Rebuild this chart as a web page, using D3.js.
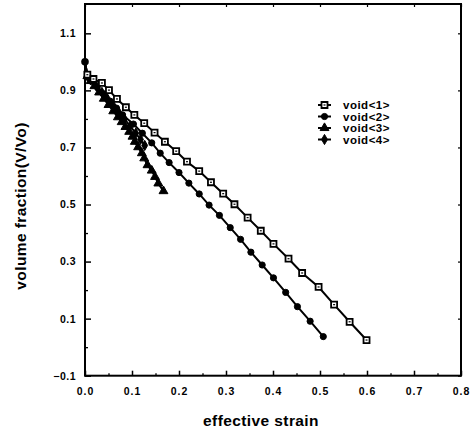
<!DOCTYPE html>
<html>
<head>
<meta charset="utf-8">
<script src="https://cdn.jsdelivr.net/npm/d3@7/dist/d3.min.js"></script>
<style>
  html, body { margin: 0; padding: 0; background: #fff; }
  svg { display: block; }
  text { font-family: "Liberation Sans", Arial, Helvetica, sans-serif; font-weight: bold; fill: #000; }
</style>
</head>
<body>
<svg id="chart" width="476" height="434"></svg>
<script>
// Void volume fraction against effective strain, four voids
const seriesNames = ["void<1>", "void<2>", "void<3>", "void<4>"];

const void1Strain = [0, 0.005, 0.018, 0.036, 0.051, 0.068, 0.087, 0.105, 0.126, 0.148, 0.170, 0.194, 0.217, 0.243, 0.268, 0.294, 0.318, 0.346, 0.374, 0.401, 0.433, 0.462, 0.497, 0.530, 0.563, 0.599];
const void1Frac   = [1.0, 0.955, 0.940, 0.926, 0.901, 0.870, 0.841, 0.814, 0.785, 0.752, 0.720, 0.687, 0.650, 0.617, 0.578, 0.538, 0.501, 0.454, 0.408, 0.362, 0.310, 0.260, 0.211, 0.149, 0.089, 0.025];

const void2Strain = [0, 0.005, 0.014, 0.026, 0.040, 0.054, 0.067, 0.080, 0.103, 0.122, 0.142, 0.160, 0.179, 0.200, 0.221, 0.243, 0.264, 0.286, 0.309, 0.331, 0.353, 0.377, 0.401, 0.427, 0.452, 0.479, 0.507];
const void2Frac   = [1.0, 0.950, 0.932, 0.912, 0.888, 0.862, 0.838, 0.814, 0.782, 0.750, 0.716, 0.680, 0.647, 0.612, 0.575, 0.537, 0.498, 0.462, 0.419, 0.378, 0.333, 0.288, 0.243, 0.192, 0.142, 0.091, 0.037];

const void3Strain = [0, 0.005, 0.012, 0.020, 0.030, 0.040, 0.050, 0.060, 0.070, 0.078, 0.086, 0.094, 0.101, 0.106, 0.113, 0.121, 0.126, 0.133, 0.142, 0.149, 0.156, 0.167];
const void3Frac   = [1.0, 0.950, 0.933, 0.915, 0.893, 0.871, 0.849, 0.827, 0.806, 0.789, 0.772, 0.755, 0.738, 0.720, 0.701, 0.680, 0.662, 0.638, 0.619, 0.597, 0.574, 0.547];

const void4Strain = [0, 0.005, 0.012, 0.024, 0.036, 0.048, 0.060, 0.072, 0.084, 0.096, 0.108, 0.118, 0.127];
const void4Frac   = [1.0, 0.950, 0.937, 0.915, 0.893, 0.870, 0.847, 0.823, 0.800, 0.775, 0.750, 0.728, 0.707];

const xTicks = [0, 0.1, 0.2, 0.3, 0.4, 0.5, 0.6, 0.7, 0.8];
const xMinorTicks = [0.05, 0.15, 0.25, 0.35, 0.45, 0.55, 0.65, 0.75];
const yTicks = [-0.1, 0.1, 0.3, 0.5, 0.7, 0.9, 1.1];
const yMinorTicks = [0.0, 0.2, 0.4, 0.6, 0.8, 1.0];

const xTitle = "effective strain";
const yTitle = "volume fraction(V/Vo)";

const series = [
  { name: seriesNames[0], xs: void1Strain, ys: void1Frac, symbol: "square" },
  { name: seriesNames[1], xs: void2Strain, ys: void2Frac, symbol: "circle" },
  { name: seriesNames[2], xs: void3Strain, ys: void3Frac, symbol: "triangle" },
  { name: seriesNames[3], xs: void4Strain, ys: void4Frac, symbol: "diamond" }
];

const svg = d3.select("#chart");
const plotLeft = 85, plotRight = 461, plotTop = 4.8, plotBottom = 375.7;

const x = d3.scaleLinear().domain([0, 0.8]).range([plotLeft, plotRight]);
const y = d3.scaleLinear().domain([-0.1, 1.2]).range([plotBottom, plotTop]);

// Frame
svg.append("rect")
  .attr("x", plotLeft).attr("y", plotTop - 0.8)
  .attr("width", plotRight - plotLeft).attr("height", plotBottom - plotTop + 0.8)
  .attr("fill", "none").attr("stroke", "#000").attr("stroke-width", 2);

// Bottom axis: labelled major ticks, inward
const xAxis = d3.axisBottom(x).tickValues(xTicks).tickFormat(d3.format(".1f")).tickSizeInner(-5).tickSizeOuter(0).tickPadding(12);
const gx = svg.append("g").attr("transform", `translate(0,${plotBottom})`).call(xAxis);
gx.select(".domain").remove();
gx.selectAll("line").attr("stroke", "#000").attr("stroke-width", 1.5);
gx.selectAll("text").attr("font-size", 10.5).attr("font-family", "Liberation Sans, Arial, sans-serif").attr("font-weight", "bold").attr("letter-spacing", "1px");

const gxm = svg.append("g").attr("transform", `translate(0,${plotBottom})`)
  .call(d3.axisBottom(x).tickValues(xMinorTicks).tickFormat("").tickSizeInner(-2.5).tickSizeOuter(0));
gxm.select(".domain").remove();
gxm.selectAll("line").attr("stroke", "#000").attr("stroke-width", 1.3);

// Top mirror ticks
const gxt = svg.append("g").attr("transform", `translate(0,${plotTop - 0.8})`)
  .call(d3.axisTop(x).tickValues(xTicks).tickFormat("").tickSizeInner(-3).tickSizeOuter(0));
gxt.select(".domain").remove();
gxt.selectAll("line").attr("stroke", "#000").attr("stroke-width", 1.2);

// Left axis
const yAxis = d3.axisLeft(y).tickValues(yTicks).tickFormat(d3.format(".1f")).tickSizeInner(-6).tickSizeOuter(0).tickPadding(9);
const gy = svg.append("g").attr("transform", `translate(${plotLeft},0)`).call(yAxis);
gy.select(".domain").remove();
gy.selectAll("line").attr("stroke", "#000").attr("stroke-width", 1.5);
gy.selectAll("text").attr("font-size", 10.5).attr("font-family", "Liberation Sans, Arial, sans-serif").attr("font-weight", "bold").attr("letter-spacing", "0.5px");

const gym = svg.append("g").attr("transform", `translate(${plotLeft},0)`)
  .call(d3.axisLeft(y).tickValues(yMinorTicks).tickFormat("").tickSizeInner(-3).tickSizeOuter(0));
gym.select(".domain").remove();
gym.selectAll("line").attr("stroke", "#000").attr("stroke-width", 1.3);

// Right mirror ticks
const gyr = svg.append("g").attr("transform", `translate(${plotRight},0)`)
  .call(d3.axisRight(y).tickValues(yTicks).tickFormat("").tickSizeInner(-3).tickSizeOuter(0));
gyr.select(".domain").remove();
gyr.selectAll("line").attr("stroke", "#000").attr("stroke-width", 1.2);

// Axis titles
svg.append("text")
  .attr("x", 261).attr("y", 426)
  .attr("text-anchor", "middle").attr("font-size", 15.5).attr("letter-spacing", "0.4px")
  .text(xTitle);

svg.append("text")
  .attr("transform", "translate(26,206) rotate(-90)")
  .attr("text-anchor", "middle").attr("font-size", 15.5).attr("letter-spacing", "0.4px")
  .text(yTitle);

// Marker shapes
const symbolTypes = {
  square: d3.symbolSquare,
  circle: d3.symbolCircle,
  triangle: d3.symbolTriangle,
  diamond: d3.symbolDiamond
};
const symbolSizes = { square: 36, circle: 30, triangle: 34, diamond: 30 };

function drawMarker(g, s, cx, cy) {
  const path = d3.symbol().type(symbolTypes[s.symbol]).size(symbolSizes[s.symbol])();
  if (s.symbol === "square") {
    g.append("path").attr("d", path)
      .attr("transform", `translate(${cx},${cy})`)
      .attr("fill", "#fff").attr("stroke", "#000").attr("stroke-width", 1.8);
    g.append("rect").attr("x", cx - 1).attr("y", cy - 0.6).attr("width", 2).attr("height", 1.2).attr("fill", "#000");
  } else {
    g.append("path").attr("d", path)
      .attr("transform", `translate(${cx},${cy})`)
      .attr("fill", "#000").attr("stroke", "#000").attr("stroke-width", 1);
  }
}

const line = d3.line().x(d => x(d[0])).y(d => y(d[1]));
const plot = svg.append("g");

// Lines first, then markers on top; later series drawn first so void<1> sits on top
series.slice().reverse().forEach(s => {
  const pts = s.xs.map((v, i) => [v, s.ys[i]]);
  plot.append("path").datum(pts)
    .attr("d", line).attr("fill", "none")
    .attr("stroke", "#000").attr("stroke-width", 2);
});
series.slice().reverse().forEach(s => {
  s.xs.forEach((v, i) => {
    if (i === 0) return;
    drawMarker(plot, s, x(v), y(s.ys[i]));
  });
});
// Shared starting point at (0, 1.0)
plot.append("circle").attr("cx", x(series[0].xs[0])).attr("cy", y(series[0].ys[0])).attr("r", 3.8).attr("fill", "#000");

// Legend
const legend = svg.append("g");
const legendY0 = 105, legendDy = 11.5;
series.forEach((s, i) => {
  const ly = legendY0 + i * legendDy;
  legend.append("line").attr("x1", 318).attr("x2", 331).attr("y1", ly).attr("y2", ly)
    .attr("stroke", "#000").attr("stroke-width", 2);
  drawMarker(legend, s, 324.5, ly);
  legend.append("text").attr("x", 343).attr("y", ly + 4)
    .attr("font-size", 11.5).attr("letter-spacing", "0.5px").text(s.name);
});
</script>
</body>
</html>
